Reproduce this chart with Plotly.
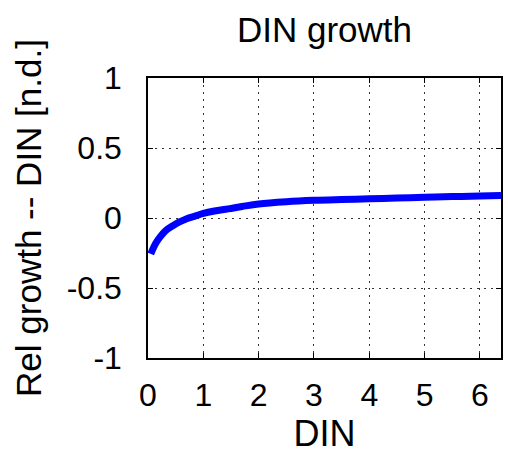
import plotly.graph_objects as go

# Relative growth response to dissolved inorganic nitrogen (DIN)
din = [0.05, 0.14, 0.22, 0.32, 0.45, 0.56, 0.70, 0.86, 1.00, 1.20, 1.45,
       1.70, 2.00, 2.50, 3.00, 3.50, 4.00, 4.50, 5.00, 5.50, 6.00, 6.38]
rel_growth = [-0.256, -0.180, -0.135, -0.090, -0.055, -0.030, -0.005, 0.015,
              0.033, 0.050, 0.065, 0.082, 0.100, 0.116, 0.126, 0.132, 0.137,
              0.143, 0.148, 0.153, 0.157, 0.160]

x_ticks = [0, 1, 2, 3, 4, 5, 6]
y_ticks = [-1, -0.5, 0, 0.5, 1]

FONT = "Liberation Sans, Arial, sans-serif"

fig = go.Figure()
fig.add_trace(go.Scatter(
    x=din, y=rel_growth, mode="lines",
    line=dict(color="#0000ff", width=7, shape="spline"),
    showlegend=False,
))

axis_common = dict(
    showline=True, linecolor="black", linewidth=1.5, mirror="allticks",
    ticks="inside", ticklen=5, tickcolor="black",
    showgrid=True, gridcolor="#333333", gridwidth=1, griddash="2px,5px",
    zeroline=False,
    tickfont=dict(family=FONT, size=32, color="black"),
)

fig.update_xaxes(
    range=[0, 6.38], tickvals=x_ticks, ticktext=[str(v) for v in x_ticks],
    title=dict(text="DIN", font=dict(family=FONT, size=36, color="black"), standoff=6),
    ticklabelstandoff=8,
    **axis_common,
)
fig.update_yaxes(
    range=[-1, 1], tickvals=y_ticks, ticktext=["-1", "-0.5", "0", "0.5", "1"],
    title=dict(text="Rel growth -- DIN [n.d.]", font=dict(family=FONT, size=35, color="black"), standoff=14),
    ticklabelstandoff=18,
    **axis_common,
)

fig.update_layout(
    width=508, height=460,
    margin=dict(l=148, r=5, t=78, b=102),
    paper_bgcolor="white", plot_bgcolor="white",
    title=dict(text="DIN growth", x=0.5, xref="paper", y=0.935, yanchor="middle",
               font=dict(family=FONT, size=35, color="black")),
)

fig.write_html("out.html")
